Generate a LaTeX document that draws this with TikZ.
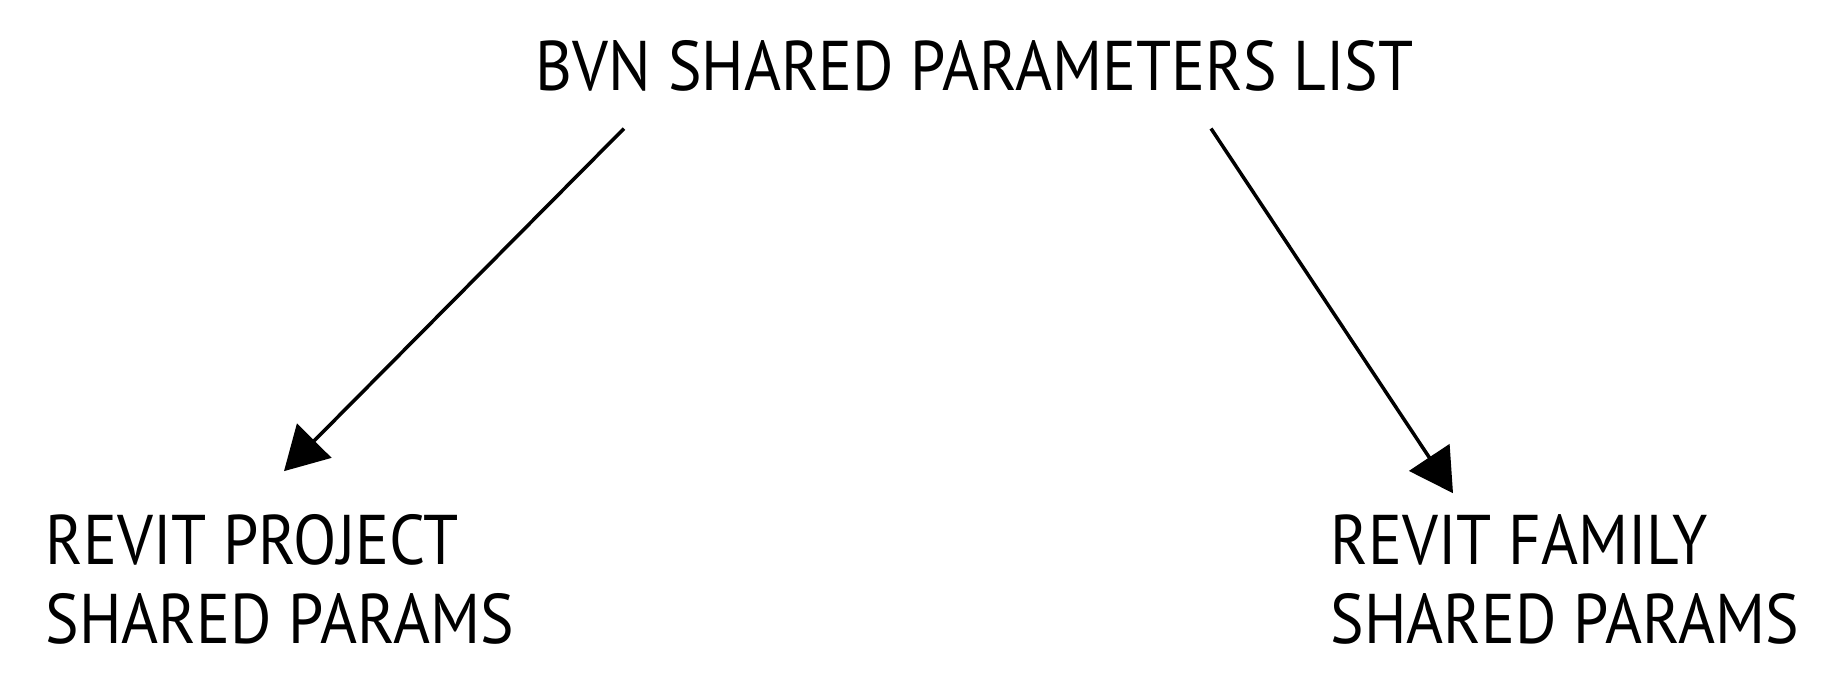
\documentclass[tikz,border=0pt]{standalone}
\usepackage{fontspec}
\setmainfont[FakeStretch=0.9]{PT Sans}
\usetikzlibrary{arrows.meta,calc,positioning}

\begin{document}
\begin{tikzpicture}[
        txt/.style={inner sep=0pt,anchor=base west,align=left,font=\fontsize{20pt}{22.5pt}\selectfont},
        arr/.style={line width=1pt,-{Triangle[length=4.3mm,width=4.8mm]}}]
                \useasboundingbox (0,0) rectangle (18.48,6.94);
                \node[txt] (list) at (5.35,6.03) {BVN SHARED PARAMETERS LIST};
                \node[txt] (project) at (0.45,0.50) {REVIT PROJECT\\SHARED PARAMS};
                \node[txt] (family) at (13.30,0.50) {REVIT FAMILY\\SHARED PARAMS};
                \draw[arr] ($(list.south west)+(0.89,-0.36)$) -- ($(project.north west)+(2.39,0.43)$);
                \draw[arr] ($(list.south west)+(6.76,-0.36)$) -- ($(family.north west)+(1.23,0.21)$);
            \end{tikzpicture}
\end{document}
